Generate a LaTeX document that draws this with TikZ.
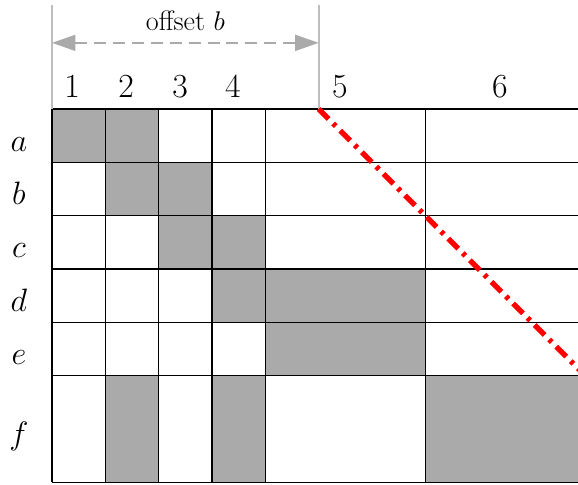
\documentclass[tikz,border=0pt]{standalone}
\usetikzlibrary{arrows.meta}
\definecolor{cellgray}{RGB}{170,170,170}
\definecolor{guidegray}{RGB}{190,190,190}
\definecolor{arrowgray}{RGB}{170,170,170}
\begin{document}
\begin{tikzpicture}[
  x=1cm,y=1cm,
  cellfill/.style={fill=cellgray},
  gridline/.style={line width=0.8pt,black},
  guide/.style={line width=1pt,guidegray},
  offsetarrow/.style={arrowgray,line width=0.9pt,dash pattern=on 6.4pt off 3.7pt,
     {Triangle[length=0.44cm,width=0.3cm]}-{Triangle[length=0.44cm,width=0.3cm]}},
  redline/.style={red,line width=2.8pt,dash pattern=on 7.5pt off 3.4pt on 2pt off 3.4pt},
  collabel/.style={anchor=base,font=\fontsize{18}{20}\selectfont},
  rowlabel/.style={anchor=base,font=\fontsize{17}{19}\selectfont},
  offlabel/.style={font=\fontsize{15}{17}\selectfont}
]
\useasboundingbox (-0.975,2.044) rectangle (9.863,-7.05);
\begin{scope}
\clip (-0.975,2.044) rectangle (9.863,-7.05);
% gray cells
\fill[cellfill] (0,0) rectangle (2,-1);
\fill[cellfill] (1,-1) rectangle (3,-2);
\fill[cellfill] (2,-2) rectangle (4,-3);
\fill[cellfill] (3,-3) rectangle (7,-4);
\fill[cellfill] (4,-4) rectangle (7,-5);
\fill[cellfill] (1,-5) rectangle (2,-7);
\fill[cellfill] (3,-5) rectangle (4,-7);
\fill[cellfill] (7,-5) rectangle (10,-7);
% grid
\foreach \y in {0,-1,-2,-3,-4,-5,-7} \draw[gridline] (0,\y) -- (10,\y);
\foreach \x in {0,1,2,3,4,7} \draw[gridline] (\x,0) -- (\x,-7);
% guides
\coordinate (gl0) at (0,1.95);
\coordinate (gl1) at (0,0);
\coordinate (gr0) at (5,1.95);
\coordinate (gr1) at (5,0);
\draw[guide] (gl0) -- (gl1);
\draw[guide] (gr0) -- (gr1);
\coordinate (al) at (0,1.24);
\coordinate (ar) at (5,1.24);
\draw[offsetarrow] (al) -- (ar);
\node[offlabel] (off) at (2.5,1.66) {offset $b$};
% red line
\coordinate (rs) at (5,0);
\coordinate (re) at (10,-5);
\draw[redline] (rs) -- (re);
\end{scope}
% column labels
\node[collabel] (c1) at (0.375,0.225) {1};
\node[collabel] (c2) at (1.39,0.225) {2};
\node[collabel] (c3) at (2.4,0.225) {3};
\node[collabel] (c4) at (3.39,0.225) {4};
\node[collabel] (c5) at (5.4,0.225) {5};
\node[collabel] (c6) at (8.4,0.225) {6};
% row labels
\node[rowlabel] (ra) at (-0.62,-0.79) {$a$};
\node[rowlabel] (rb) at (-0.62,-1.79) {$b$};
\node[rowlabel] (rc) at (-0.62,-2.79) {$c$};
\node[rowlabel] (rd) at (-0.62,-3.79) {$d$};
\node[rowlabel] (re2) at (-0.62,-4.79) {$e$};
\node[rowlabel] (rf) at (-0.62,-6.29) {$f$};
\end{tikzpicture}
\end{document}
